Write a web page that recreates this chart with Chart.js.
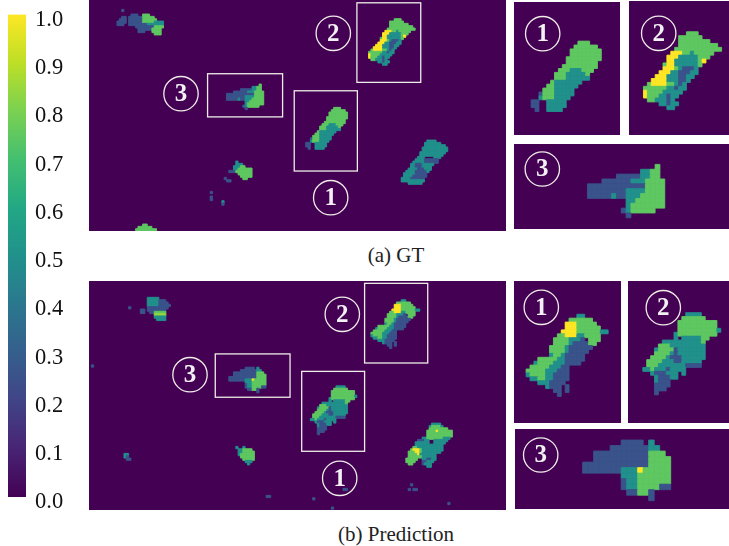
<!DOCTYPE html>
<html>
<head>
<meta charset="utf-8">
<title>GT vs Prediction</title>
<script src="https://cdn.jsdelivr.net/npm/chart.js@4/dist/chart.umd.min.js"></script>
<style>
  html, body { margin: 0; background: #fff; }
  #page { position: relative; width: 729px; height: 546px; overflow: hidden; }
  #page canvas { position: absolute; display: block; }
  #page canvas.heat { filter: blur(0.35px); }
  .caption { position: absolute; left: 0; width: 792px; text-align: center; font: 21px "Liberation Serif", serif; color: #222; }
</style>
</head>
<body>
<div id="page">
  <div class="caption" style="top:243px">(a) GT</div>
  <div class="caption" style="top:522px">(b) Prediction</div>
</div>
<script>
// one char = one heatmap cell: . empty, b blue, t teal, g green, l light green, y yellow
const levelValues = { b: 0.26, t: 0.5, g: 0.75, l: 0.84, y: 1 };
const viridisStops = ['#440154', '#482475', '#414487', '#355f8d', '#2a788e', '#21918c', '#22a884', '#44bf70', '#7ad151', '#bddf26', '#fde725'];
const colorbarTicks = ['0.0', '0.1', '0.2', '0.3', '0.4', '0.5', '0.6', '0.7', '0.8', '0.9', '1.0'];

const gtBlob1 = [
  '............ggg', '...........gggggg', '..........gggggggg', '..........gggggggg',
  '.........ggggggggg', '.........gggggggg', '........ggggggggg', '.......gggtttggg',
  '......gggtttttg', '......gggtttttt', '.....gttttttt', '....ggtttttt',
  '...gggttttt', '..bgggttttt', '..tgggtttt', 'bb..ttttt', 'bb..ttttt', '.b..tttt'
];
const gtBlob2 = [
  '...........ggg', '.........gggggg', '.........gggggggg', '.........gggggggggg',
  '........gggggggggggg', '.......yyyggtggggg', '......yyytttttggg', '......yyttttttgy',
  '.....gyyttttttg', '.....yyygtbbbt', '....yyyttbbbtt', '...yyytttbbtt',
  '..yyyytttbbt', '.gyyyyggtbt', 'ggggggttbtt', 'yggggttttt', 'ygggttbtt',
  '.ggtttbt', '....ttbtt', '......tt'
];
const gtBlob3 = [
  '..............g', '...........ttgg', '......bbbbbttgg', '...bbbbbbtttgggg',
  'bbbbbbbbbbbbgggg', 'bbbbbbbbttttgggg', 'bbbbbtbbtttggggg', '........ttgggggg',
  '........tggggggg', '.......btggggg', '........b'
];
const gtBlob4 = [
  '..b', '', '......bbb..ggg', '..bb.bbbbbbggggg', '.bbb.bbbbbbgggggg',
  'bbbb.bbbbbbgggggtttt', 'bbb..bbbbbbbbttttttt', '........bbbbbbbbgggg',
  '.........bbbbbbgggg', '.........bbb...gggg', '................ggg'
];
const gtBlob5 = [
  '...t', '...ttt', '..tttgg', '..ttgggggg', 'bbbggggggg', '....gggggg', '.....ggggg', '......gg'
];
const gtBlob6 = ['...gg', '.gggggg', 'ggggggggg'];
const gtBlob7 = [
  '...........tttt', '..........ttttttt', '..........ttttttttt', '.........ttttttttttt',
  '.........ttttttttttt', '........ttttttttttt', '........tttttttttt', '.......ttt....ttt',
  '......ttttbbbbbb', '.....tttttbbbbbb', '....ttbbbttttt', '....ttbbbtttt',
  '...ttttbbbttt', '..ttttbbbbbt', '.tttttbbbbb', '.ttttbbbbbb', 'ttttbbbbbb',
  'tttttttttt', '...tttttt'
];
const gtSpecks = [[['b'], 58, 76], [['bb'], 59, 77], [['b'], 52, 82], [['b', 'b'], 52, 84], [['t', 'b'], 57, 86]];

const predBlob1 = [
  '.............tt', '...........gggggg', '..........yyyggggg', '..........yyygggggg',
  '.........yyyyggggggtt', '........ggyyyttgggg', '.......ggggtttb.ggg', '.......ggggtbbbbgg',
  '......ggggtbbbbbb', '......ggggtbbbbb', '......tggtbbbbb', '...gggggttbbbbb',
  '..tggggtttbbbb', '.gggggtttbb', 'gggggtttbbb', 'tggggttbbbb', '.ttggttbbbb',
  '...tttbbbb', '.....tbbb.b', '.......bb.b', '........b'
];
const predBlob2 = [
  '...........tttt', '..........gggggg', '.........gggggggggg', '.........gggggggggg',
  '.........ggggggggggt', '........tgggggggggg', '........t.tttttgg', '.....ttttttttttg',
  '....gggttttttttt', '...tggggbttttttt', '...ggggtbttttttt', '..ggggtbbbtttttt',
  '.ggggtttbbttttt', '.gggtttttttbbbb', 'ttgtttbtttt', '..tbbbttt.t', '...tbbbtt',
  '...tbbb', '...bbbb', '...bbb', '...b'
];
const predBlob3 = [
  '.......bbbb.t', '.....bbbbbbbtt', '..bbbbbbbbbbggg', '..bbbbbbbbbbgggg',
  'bbbbbbbbbbbbgggg', 'bbbbbbbtttyggggg', '.......tttgggggg', '.......bttgggggg',
  '.......bttggggbb', '........bbggb', '............b'
];
const predBlob4 = [
  '...ttttt', '...tttttbbb', '...tttttbbbb', '...tttttbbbbb', '...bbbbbbbbb',
  'bb.bbbbbbbb', 'bb..bbggggg', '......lllll', '......ttttt', '.......tttt'
];
const predBlob5 = ['t..t', '.ttgggg', '.ttggggg', '.tgggggg', '..gggggg', '...ggggg', '....ttt', '.....t'];
const predBlob6 = ['tt', 'tb', '.bb'];
const predBlob7 = [
  '...........tttt', '..........tggggt', '..........gggggggg', '.........ggggygggggg',
  '.........ggggggggggg', '.........ggggggggggg', '.......ttgggggggttt', '.....bbbtt..tttttt',
  '....tttttt..ttttt', '....tttttttttttt', '...ggttttttttttt', '..gyyygttttttttt',
  '.gggyygtttttttt', '.ggggyttttttt', '.ggggggtttttt', 'ggggg..ttbbtt', 'gggg...bbttt',
  '.gg....bttt', '.........tt'
];
const predSpecks = [
  [['b'], 17, 11], [['b'], 1, 36], [['bb'], 76, 92], [['b'], 96, 93], [['b'], 104, 97],
  [['bb'], 109, 89], [['b'], 138, 87], [['b.bb'], 137, 89], [['b'], 154, 95]
];

function cellsFrom(placed) {
  const cells = [];
  placed.forEach(([rows, col, row]) => {
    rows.forEach((line, r) => {
      [...line].forEach((ch, c) => {
        if (ch !== '.') cells.push({ x: col + c + 0.5, y: row + r + 0.5, v: levelValues[ch] });
      });
    });
  });
  return cells;
}

function viridis(v) {
  const p = v * 10, i = Math.min(9, Math.floor(p)), t = p - i;
  const a = parseInt(viridisStops[i].slice(1), 16), b = parseInt(viridisStops[i + 1].slice(1), 16);
  const mix = s => Math.round(((a >> s) & 255) * (1 - t) + ((b >> s) & 255) * t);
  return `rgb(${mix(16)},${mix(8)},${mix(0)})`;
}

// dark field under the cells, white frames and numbered circles above them
const panelDecor = {
  id: 'panelDecor',
  beforeDatasetsDraw(chart) {
    const { ctx, chartArea: a } = chart;
    ctx.save();
    ctx.fillStyle = '#440154';
    ctx.fillRect(a.left, a.top, a.width, a.height);
    ctx.restore();
  },
  afterDatasetsDraw(chart, args, opts) {
    const { ctx, scales: { x, y } } = chart;
    ctx.save();
    ctx.strokeStyle = '#eeeee6';
    ctx.lineWidth = 1.3;
    (opts.frames || []).forEach(([x0, y0, x1, y1]) => {
      const l = x.getPixelForValue(x0), t = y.getPixelForValue(y0);
      ctx.strokeRect(l, t, x.getPixelForValue(x1) - l, y.getPixelForValue(y1) - t);
    });
    ctx.fillStyle = '#f2f0f2';
    ctx.font = 'bold 25px "Liberation Serif", serif';
    ctx.textAlign = 'center';
    ctx.textBaseline = 'middle';
    (opts.circles || []).forEach(([label, cx, cy]) => {
      ctx.beginPath();
      ctx.arc(cx, cy, 17.2, 0, Math.PI * 2);
      ctx.stroke();
      ctx.fillText(label, cx, cy + 1);
    });
    ctx.restore();
  }
};

function addCanvas(left, top, w, h) {
  const cv = document.createElement('canvas');
  cv.width = w; cv.height = h;
  cv.style.left = left + 'px'; cv.style.top = top + 'px';
  cv.style.width = w + 'px'; cv.style.height = h + 'px';
  document.getElementById('page').appendChild(cv);
  return cv;
}

function panel(box, xRange, yRange, placed, frames, circles) {
  const cv = addCanvas(box[0], box[1], box[2], box[3]);
  cv.className = 'heat';
  const color = ctx => (ctx.raw ? viridis(ctx.raw.v) : '#440154');
  new Chart(cv.getContext('2d'), {
    type: 'scatter',
    data: {
      datasets: [{
        data: cellsFrom(placed),
        pointStyle: 'rect',
        pointBackgroundColor: color,
        pointBorderColor: color,
        pointBorderWidth: 0.9,
        pointRadius: ctx => {
          const s = ctx.chart.scales.x;
          return Math.abs(s.getPixelForValue(1) - s.getPixelForValue(0)) / Math.SQRT2;
        }
      }]
    },
    options: {
      responsive: false, animation: false, events: [],
      layout: { padding: 0 },
      plugins: { legend: { display: false }, tooltip: { enabled: false }, panelDecor: { frames, circles } },
      scales: {
        x: { type: 'linear', display: false, min: xRange[0], max: xRange[1] },
        y: { type: 'linear', display: false, reverse: true, min: yRange[0], max: yRange[1] }
      }
    },
    plugins: [panelDecor]
  });
}

// main GT and its three crops
panel([89, 0, 417, 231], [0, 179], [0, 99],
  [[gtBlob1, 93, 46], [gtBlob2, 120, 8], [gtBlob3, 59, 36], [gtBlob4, 12, 4], [gtBlob5, 60, 69],
   [gtBlob6, 20, 96], [gtBlob7, 134, 60], ...gtSpecks],
  [[88.1, 38.9, 115.2, 73.3], [115, 1.2, 142.4, 35.3], [50.9, 31.6, 83.1, 50.1]],
  [['3', 92, 93.7], ['2', 244.3, 33.3], ['1', 241.7, 197.7]]);
panel([514, 2, 106, 133], [88.6, 115.8], [36, 70], [[gtBlob1, 93, 46]], [], [['1', 28.7, 31.7]]);
panel([629, 1, 100, 134], [116.3, 141.9], [0.1, 34.5], [[gtBlob2, 120, 8]], [], [['2', 29.7, 32.3]]);
panel([514, 144, 215, 85], [43.8, 88.3], [31.8, 49.3], [[gtBlob3, 59, 36]], [], [['3', 28.3, 25]]);

// main prediction and its three crops
panel([89, 281, 417, 229], [0, 179], [0, 98.3],
  [[predBlob1, 121, 8], [predBlob2, 95, 45], [predBlob3, 60, 37], [predBlob4, 22, 7], [predBlob5, 63, 71],
   [predBlob6, 15, 74], [predBlob7, 136, 61], ...predSpecks],
  [[91.3, 38.8, 118.3, 73.1], [118.3, 1, 145.4, 35.2], [54.2, 31.3, 86.3, 49.9]],
  [['3', 101, 93.7], ['2', 253.3, 33.3], ['1', 250.7, 197.3]]);
panel([514, 281, 107, 142], [117.9, 145.3], [-0.5, 35.8], [[predBlob1, 121, 8]], [], [['1', 27.3, 26.3]]);
panel([628, 281, 101, 142], [91.2, 117.1], [36.9, 73.2], [[predBlob2, 95, 45]], [], [['2', 35.3, 26.7]]);
panel([515, 429, 214, 80], [47.7, 86.6], [35, 49.5], [[predBlob3, 60, 37]], [], [['3', 25.7, 26]]);

// colorbar: one floating bar over the 0..1 axis, filled with the viridis stops
const barCanvas = addCanvas(0, 0, 89, 546);
new Chart(barCanvas.getContext('2d'), {
  type: 'bar',
  data: {
    labels: ['value'],
    datasets: [{
      data: [[0, 1]],
      barPercentage: 1,
      categoryPercentage: 1,
      backgroundColor: ctx => {
        const a = ctx.chart.chartArea;
        if (!a) return '#21918c';
        const g = ctx.chart.ctx.createLinearGradient(0, a.bottom, 0, a.top);
        viridisStops.forEach((c, i) => g.addColorStop(i / (viridisStops.length - 1), c));
        return g;
      }
    }]
  },
  options: {
    responsive: false, animation: false, events: [],
    layout: { autoPadding: false, padding: { left: 8, top: 14, bottom: 49 } },
    plugins: { legend: { display: false }, tooltip: { enabled: false } },
    scales: {
      x: { display: false },
      y: {
        position: 'right', min: 0, max: 1,
        afterFit: s => { s.width = 63; },
        grid: { display: false },
        border: { display: false },
        afterBuildTicks: s => { s.ticks = colorbarTicks.map(t => ({ value: Number(t) })); },
        ticks: {
          autoSkip: false,
          padding: 1,
          labelOffset: 5.5,
          color: '#111',
          font: { family: '"Liberation Serif", serif', size: 22.5 },
          callback: v => v.toFixed(1)
        }
      }
    }
  }
});
</script>
</body>
</html>
